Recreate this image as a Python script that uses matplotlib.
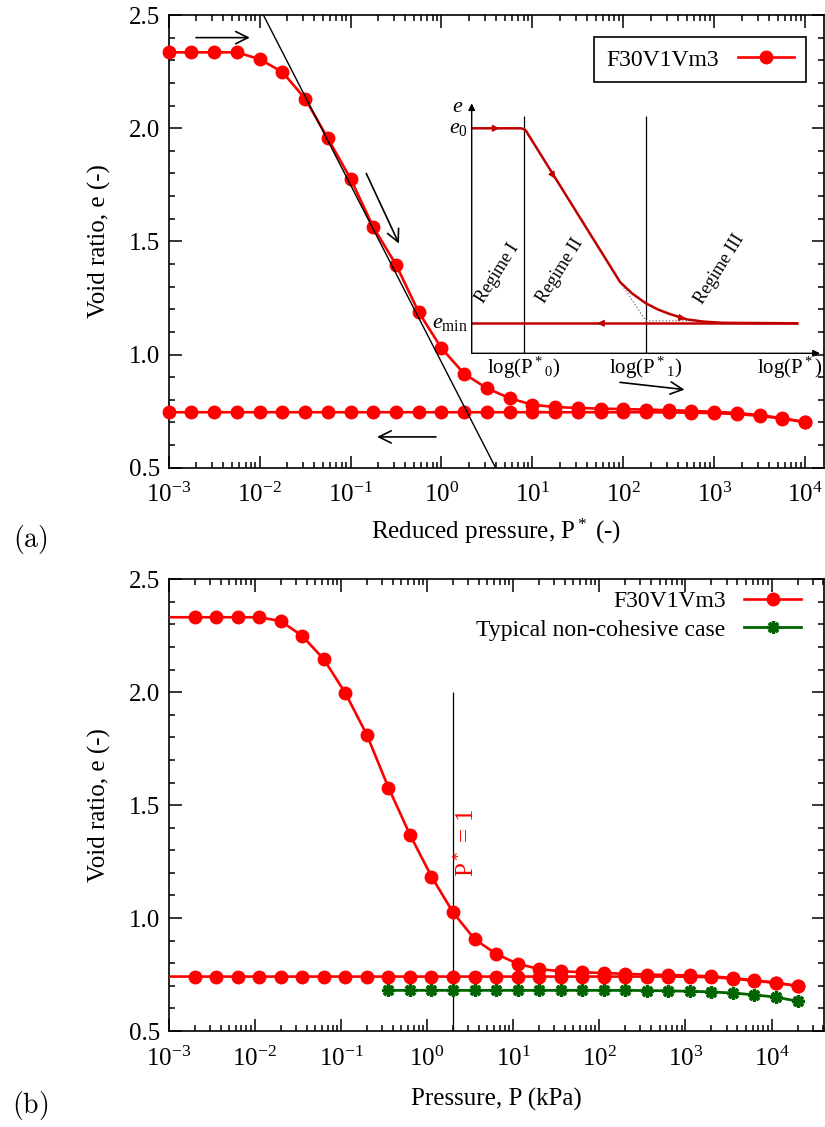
import numpy as np
import matplotlib.pyplot as plt
from matplotlib.lines import Line2D
from matplotlib.ticker import MultipleLocator, FormatStrFormatter, LogLocator, NullFormatter

# 1. Data
# exponent of the reduced pressure P* for each step (first one lies left of the axis)
PSTAR_EXP = [-3.5, -3.0, -2.75, -2.5, -2.25, -2.0, -1.75, -1.5, -1.25, -1.0, -0.75, -0.5, -0.25,
             0.0, 0.25, 0.5, 0.75, 1.0, 1.25, 1.5, 1.75, 2.0, 2.25, 2.5, 2.75, 3.0, 3.25, 3.5, 3.75, 4.0]
P_REF_KPA = 2.0   # P = P_ref * P*

# panel (a)
E_LOAD_A = [2.335, 2.335, 2.335, 2.335, 2.335, 2.305, 2.248, 2.131, 1.955, 1.777, 1.563, 1.397, 1.187,
            1.028, 0.915, 0.851, 0.807, 0.778, 0.768, 0.764, 0.761, 0.759, 0.757, 0.754, 0.751,
            0.747, 0.742, 0.732, 0.719, 0.701]
E_UNLOAD_A = [0.745, 0.745, 0.745, 0.745, 0.745, 0.745, 0.745, 0.745, 0.745, 0.745, 0.745, 0.745, 0.745,
              0.745, 0.745, 0.745, 0.745, 0.745, 0.745, 0.745, 0.745, 0.745, 0.745, 0.744, 0.743,
              0.741, 0.737, 0.729, 0.717, 0.701]
# panel (b)
E_LOAD_B = [2.332, 2.332, 2.332, 2.332, 2.332, 2.315, 2.249, 2.146, 1.996, 1.811, 1.578, 1.369, 1.184,
            1.025, 0.907, 0.841, 0.798, 0.774, 0.765, 0.760, 0.757, 0.753, 0.750, 0.748, 0.746,
            0.742, 0.735, 0.724, 0.714, 0.699]
E_UNLOAD_B = [0.741, 0.741, 0.741, 0.741, 0.741, 0.741, 0.741, 0.741, 0.741, 0.741, 0.741, 0.741, 0.741,
              0.741, 0.741, 0.741, 0.741, 0.741, 0.741, 0.741, 0.741, 0.741, 0.741, 0.741, 0.740,
              0.738, 0.732, 0.722, 0.713, 0.699]
GREEN_PSTAR_EXP = [-0.75, -0.5, -0.25, 0.0, 0.25, 0.5, 0.75, 1.0, 1.25, 1.5, 1.75, 2.0,
                   2.25, 2.5, 2.75, 3.0, 3.25, 3.5, 3.75, 4.0]
E_GREEN = [0.680, 0.680, 0.680, 0.680, 0.680, 0.680, 0.680, 0.680, 0.680, 0.680, 0.680, 0.680,
           0.679, 0.678, 0.676, 0.673, 0.668, 0.660, 0.650, 0.632]

LABEL_RED = "F30V1Vm3"
LABEL_GREEN = "Typical non-cohesive case"

# black tangent line of panel (a)
TANGENT_P = [0.011, 3.94]
TANGENT_E = [2.5, 0.5]
# direction arrows of panel (a): (P start, e start, P end, e end)
ARROWS_A = [(2.0e-3, 2.40, 7.8e-3, 2.40),
            (0.149, 1.80, 0.341, 1.49),
            (92.0, 0.877, 472.0, 0.845),
            (0.87, 0.636, 0.196, 0.636)]
PSTAR_ONE_TOP = 2.0

# schematic inset (arbitrary units: log P* 0..10, e 0..10)
SK_E0 = 9.0
SK_EMIN = 1.2
SK_LOGP0 = 1.5
SK_LOGP1 = 5.0
SK_LOAD_X = [0.0, 1.40, 1.50, 1.56, 1.62, 4.26, 4.6, 5.0, 5.35, 5.69, 6.17, 6.64, 7.2, 9.33]
SK_LOAD_Y = [9.0, 9.0, 8.97, 8.9, 8.76, 2.85, 2.4, 2.0, 1.75, 1.57, 1.36, 1.27, 1.22, 1.2]
SK_UNLOAD_X = [9.33, 0.0]
SK_UNLOAD_Y = [1.2, 1.2]

RED = "#ff0000"
DARKRED = "#c00000"
GREEN = "#006400"

plt.rcParams['font.family'] = ['Liberation Serif', 'DejaVu Serif']
plt.rcParams['mathtext.fontset'] = 'custom'
plt.rcParams['mathtext.rm'] = 'Liberation Serif'
plt.rcParams['mathtext.it'] = 'Liberation Serif:italic'
plt.rcParams['axes.linewidth'] = 1.2

W, H = 825, 1127


def style_axes(ax, xmax):
    ax.set_xscale('log')
    ax.set_xlim(1e-3, xmax)
    ax.set_ylim(0.5, 2.5)
    ax.yaxis.set_major_locator(MultipleLocator(0.5))
    ax.yaxis.set_minor_locator(MultipleLocator(0.1))
    ax.yaxis.set_major_formatter(FormatStrFormatter('%.1f'))
    ax.xaxis.set_major_locator(LogLocator(base=10, numticks=20))
    ax.xaxis.set_minor_locator(LogLocator(base=10, subs=np.arange(2, 10), numticks=40))
    ax.xaxis.set_minor_formatter(NullFormatter())
    ax.tick_params(which='both', direction='in', top=True, right=True, width=1.1)
    ax.tick_params(which='major', length=9, labelsize=18)
    ax.tick_params(which='minor', length=4.5)
    ax.tick_params(axis='x', pad=11)
    ax.tick_params(axis='y', pad=6)
    ax.set_ylabel("Void ratio, e (-)", fontsize=18)
    ax.yaxis.set_label_coords(-0.088, 0.5)


def plot_cycle(ax, x, e_load, e_unload):
    x = np.asarray(x)
    ax.plot(x, e_load, '-', color=RED, lw=1.9, zorder=3)
    ax.plot(x, e_unload, '-', color=RED, lw=1.9, zorder=3)
    inside = x >= 1e-3
    ax.plot(x[inside], np.asarray(e_load)[inside], 'o', color=RED, ms=9, clip_on=False, zorder=4)
    ax.plot(x[inside], np.asarray(e_unload)[inside], 'o', color=RED, ms=9, clip_on=False, zorder=4)


def main():
    fig = plt.figure(figsize=(W / 100, H / 100), dpi=100)
    left = 168.7 / W
    width = (824 - 168.7) / W

    pstar = 10.0 ** np.asarray(PSTAR_EXP)
    pressure = P_REF_KPA * pstar

    green_marker = dict(marker=(8, 2, 0), ms=9, mew=2.4, mec=GREEN, mfc=GREEN)
    red_handle = Line2D([], [], color=RED, lw=1.9, marker='o', ms=9)
    green_handle = Line2D([], [], color=GREEN, lw=2.0, **green_marker)

    # panel (a)
    ax1 = fig.add_axes([left, 1 - 467.7 / H, width, 452.7 / H])
    style_axes(ax1, 10 ** 4.208)
    plot_cycle(ax1, pstar, E_LOAD_A, E_UNLOAD_A)
    ax1.plot(TANGENT_P, TANGENT_E, color='black', lw=1.0, zorder=5)
    for x0, y0, x1, y1 in ARROWS_A:
        ax1.annotate('', xy=(x1, y1), xytext=(x0, y0),
                     arrowprops=dict(arrowstyle='->', color='black', lw=1.2,
                                     mutation_scale=22, shrinkA=0, shrinkB=0))
    ax1.set_xlabel(r"Reduced pressure, P$^*$ (-)", fontsize=18)
    ax1.xaxis.set_label_coords(0.5, -0.108)
    leg = ax1.legend([red_handle], [LABEL_RED], loc='upper right', bbox_to_anchor=(0.9726, 0.951),
                     borderaxespad=0, markerfirst=False, fontsize=17, fancybox=False,
                     edgecolor='black', framealpha=1, handlelength=2.4, borderpad=0.5)
    leg.get_frame().set_linewidth(1.2)

    # panel (b)
    ax2 = fig.add_axes([left, 1 - 1031 / H, width, 451.7 / H])
    style_axes(ax2, 10 ** 4.608)
    plot_cycle(ax2, pressure, E_LOAD_B, E_UNLOAD_B)
    pg = P_REF_KPA * 10.0 ** np.asarray(GREEN_PSTAR_EXP)
    ax2.plot(pg, E_GREEN, '-', color=GREEN, lw=2.0, clip_on=False, zorder=3, **green_marker)
    ax2.vlines(P_REF_KPA, 0.5, PSTAR_ONE_TOP, color='black', lw=0.9, zorder=2)
    ax2.text(P_REF_KPA * 1.45, 1.18, r"P$^*$ = 1", color=RED, rotation=90, fontsize=18,
             ha='center', va='bottom')
    ax2.set_xlabel("Pressure, P (kPa)", fontsize=18)
    ax2.xaxis.set_label_coords(0.5, -0.125)
    ax2.legend([red_handle, green_handle], [LABEL_RED, LABEL_GREEN], loc='upper right',
               bbox_to_anchor=(0.965, 0.975), borderaxespad=0, borderpad=0, markerfirst=False,
               frameon=False, fontsize=17, handlelength=2.4, labelspacing=0.3)

    fig.text(30 / W, 1 - 540 / H, r"$\mathrm{(a)}$", fontsize=20, math_fontfamily='cm',
             ha='center', va='center')
    fig.text(30 / W, 1 - 1105 / H, r"$\mathrm{(b)}$", fontsize=20, math_fontfamily='cm',
             ha='center', va='center')

    # schematic inset
    ins = fig.add_axes([471.7 / W, 1 - 353.3 / H, 348.3 / W, 250 / H])
    ins.set_xlim(0, 10)
    ins.set_ylim(0, 10)
    ins.axis('off')
    ins.patch.set_alpha(0)
    ax_arrow = dict(arrowstyle='-|>', color='black', lw=1.0, mutation_scale=10, shrinkA=0, shrinkB=0)
    ins.annotate('', xy=(0, 10), xytext=(0, 0), arrowprops=ax_arrow, annotation_clip=False)
    ins.annotate('', xy=(10, 0), xytext=(0, 0), arrowprops=ax_arrow, annotation_clip=False)
    ins.vlines([SK_LOGP0, SK_LOGP1], 0, 9.5, color='black', lw=0.9)
    ins.plot([0.8, SK_LOGP0], [SK_E0, SK_E0], ':', color='0.45', lw=0.9)
    ins.plot([4.26, SK_LOGP1, 6.64], [2.85, 1.3, 1.3], ':', color='0.45', lw=0.9)
    ins.plot(SK_LOAD_X, SK_LOAD_Y, color=DARKRED, lw=1.8, solid_joinstyle='round')
    ins.plot(SK_UNLOAD_X, SK_UNLOAD_Y, color=DARKRED, lw=1.8)
    head = dict(arrowstyle='-|>', color=DARKRED, lw=1.0, mutation_scale=10, shrinkA=0, shrinkB=0)
    for (x0, y0), (x1, y1) in [((0.6, 9.0), (0.8, 9.0)),
                               ((2.3, 7.2), (2.4, 6.98)),
                               ((5.95, 1.43), (6.15, 1.38)),
                               ((3.8, 1.2), (3.6, 1.2))]:
        ins.annotate('', xy=(x1, y1), xytext=(x0, y0), arrowprops=head)
    ins.text(-0.4, 9.85, r"$e$", fontsize=16, ha='center', va='center')
    ins.text(-0.12, SK_E0, r"$e_0$", fontsize=16, ha='right', va='center')
    ins.text(-0.12, SK_EMIN, r"$e_{\mathrm{min}}$", fontsize=16, ha='right', va='center')
    ins.text(SK_LOGP0, -0.6, r"log(P$^*$$_0$)", fontsize=15, ha='center', va='center')
    ins.text(SK_LOGP1, -0.6, r"log(P$^*$$_1$)", fontsize=15, ha='center', va='center')
    ins.text(9.14, -0.6, r"log(P$^*$)", fontsize=15, ha='center', va='center')
    ins.text(0.74, 3.2, "Regime I", fontsize=13, rotation=58, ha='center', va='center')
    ins.text(2.54, 3.3, "Regime II", fontsize=13, rotation=58, ha='center', va='center')
    ins.text(7.13, 3.35, "Regime III", fontsize=13, rotation=58, ha='center', va='center')

    fig.savefig("out.png", dpi=100, facecolor='white')


if __name__ == "__main__":
    main()
